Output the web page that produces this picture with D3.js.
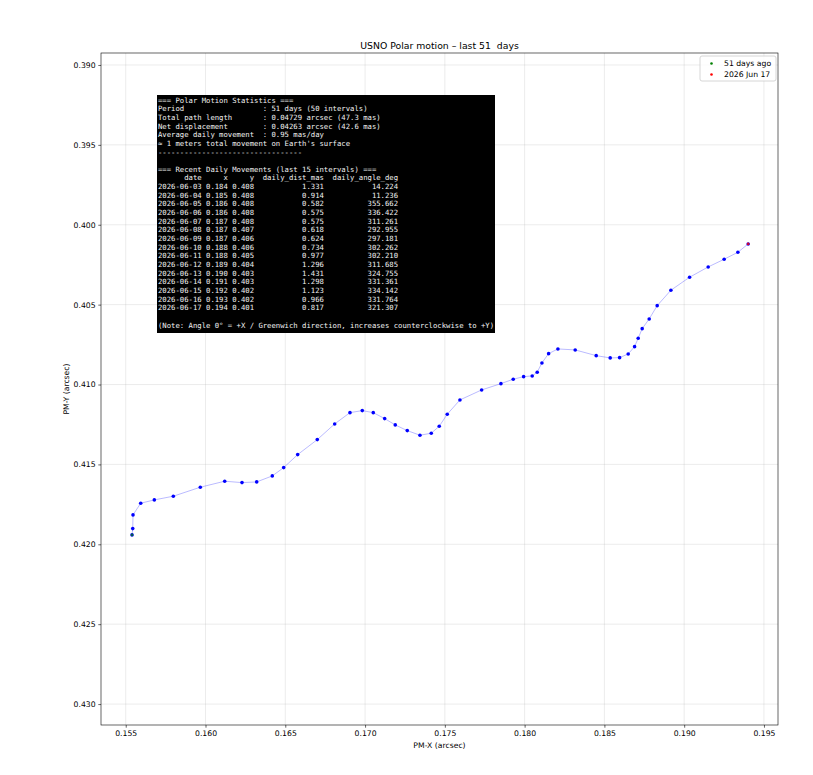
<!DOCTYPE html>
<html><head><meta charset="utf-8">
<script src="https://cdn.jsdelivr.net/npm/d3@7"></script>
<style>
body{margin:0;background:#fff;}
</style></head>
<body><svg id="c" width="813" height="775" font-family="DejaVu Sans, sans-serif"></svg>
<script>
// ---- data ----
const pmX = [0.155395,0.155439,0.155457,0.155940,0.156792,0.157982,0.159674,0.161203,0.162287,0.163208,
 0.164185,0.164900,0.165777,0.167005,0.168095,0.169054,0.169825,0.170514,0.171228,0.171892,
 0.172644,0.173440,0.174148,0.174649,0.175150,0.175946,0.177306,0.178515,0.179286,0.179937,
 0.180476,0.180789,0.181084,0.181504,0.182086,0.183170,0.184486,0.185363,0.185952,0.186491,
 0.186892,0.187118,0.187368,0.187807,0.188308,0.189167,0.190338,0.191504,0.192506,0.193365,0.194010];
const pmY = [0.419412,0.419017,0.418160,0.417428,0.417222,0.416990,0.416427,0.416051,0.416139,0.416095,
 0.415720,0.415200,0.414387,0.413448,0.412466,0.411759,0.411633,0.411759,0.412134,0.412528,
 0.412885,0.413173,0.413048,0.412610,0.411859,0.410964,0.410338,0.409944,0.409668,0.409506,
 0.409462,0.409230,0.408648,0.408066,0.407772,0.407835,0.408192,0.408335,0.408317,0.408085,
 0.407628,0.407103,0.406502,0.405895,0.405063,0.404099,0.403285,0.402641,0.402159,0.401721,0.401202];
const xTicks = [0.155,0.160,0.165,0.170,0.175,0.180,0.185,0.190,0.195];
const yTicks = [0.390,0.395,0.400,0.405,0.410,0.415,0.420,0.425,0.430];
const titleText = "USNO Polar motion \u2013 last 51  days";
const legendLabels = ["51 days ago","2026 Jun 17"];
const statLabels = ["Period","Total path length","Net displacement","Average daily movement"];
const statValues = ["51 days (50 intervals)","0.04729 arcsec (47.3 mas)","0.04263 arcsec (42.6 mas)","0.95 mas/day"];
const tblDates = ["2026-06-03","2026-06-04","2026-06-05","2026-06-06","2026-06-07","2026-06-08","2026-06-09","2026-06-10",
 "2026-06-11","2026-06-12","2026-06-13","2026-06-14","2026-06-15","2026-06-16","2026-06-17"];
const tblX = ["0.184","0.185","0.186","0.186","0.187","0.187","0.187","0.188","0.188","0.189","0.190","0.191","0.192","0.193","0.194"];
const tblY = ["0.408","0.408","0.408","0.408","0.408","0.407","0.406","0.406","0.405","0.404","0.403","0.403","0.402","0.402","0.401"];
const tblDist = ["1.331","0.914","0.582","0.575","0.575","0.618","0.624","0.734","0.977","1.296","1.431","1.298","1.123","0.966","0.817"];
const tblAngle = ["14.224","11.236","355.662","336.422","311.261","292.955","297.181","302.262","302.210","311.685","324.755","331.361","334.142","331.764","321.307"];

// ---- layout ----
const L=101, R=778, T=53, B=725;
const svg = d3.select("#c");
const x = d3.scaleLinear().domain([0.15345,0.19588]).range([L,R]);
const y = d3.scaleLinear().domain([0.38925,0.43131]).range([T,B]);

// grid
svg.append("g").selectAll("line").data(xTicks).join("line")
  .attr("x1",d=>x(d)).attr("x2",d=>x(d)).attr("y1",T).attr("y2",B)
  .attr("stroke","#b0b0b0").attr("stroke-opacity",0.3).attr("stroke-width",0.8);
svg.append("g").selectAll("line").data(yTicks).join("line")
  .attr("y1",d=>y(d)).attr("y2",d=>y(d)).attr("x1",L).attr("x2",R)
  .attr("stroke","#b0b0b0").attr("stroke-opacity",0.3).attr("stroke-width",0.8);

// axes
const fmt = d3.format(".3f");
const xAxis = svg.append("g").attr("transform",`translate(0,${B})`)
  .call(d3.axisBottom(x).tickValues(xTicks).tickFormat(fmt).tickSize(2.7).tickPadding(2.7));
const yAxis = svg.append("g").attr("transform",`translate(${L},0)`)
  .call(d3.axisLeft(y).tickValues(yTicks).tickFormat(fmt).tickSize(2.7).tickPadding(2.7));
[xAxis,yAxis].forEach(a=>{
  a.attr("font-family","DejaVu Sans, sans-serif").attr("font-size","7.7px");
  a.selectAll("text").attr("fill","#000");
  a.selectAll("line").attr("stroke","#000").attr("stroke-width",0.6);
  a.select(".domain").remove();
});
svg.append("rect").attr("x",L).attr("y",T).attr("width",R-L).attr("height",B-T)
  .attr("fill","none").attr("stroke","#000").attr("stroke-width",0.6);

// title & labels
svg.append("text").attr("x",(L+R)/2).attr("y",49).attr("text-anchor","middle")
  .attr("font-size","9.3px").style("white-space","pre").text(titleText);
svg.append("text").attr("x",(L+R)/2).attr("y",748).attr("text-anchor","middle")
  .attr("font-size","7.7px").text("PM-X (arcsec)");
svg.append("text").attr("transform",`translate(69,${(T+B)/2}) rotate(-90)`).attr("text-anchor","middle")
  .attr("font-size","7.7px").text("PM-Y (arcsec)");

// path
const pts = pmX.map((v,i)=>[v,pmY[i]]);
svg.append("path").datum(pts)
  .attr("d",d3.line().x(d=>x(d[0])).y(d=>y(d[1])))
  .attr("fill","none").attr("stroke","blue").attr("stroke-opacity",0.3).attr("stroke-width",0.9);
svg.append("g").selectAll("circle").data(pts).join("circle")
  .attr("cx",d=>x(d[0])).attr("cy",d=>y(d[1])).attr("r",1.8).attr("fill","blue");
svg.append("circle").attr("cx",x(pts[0][0])).attr("cy",y(pts[0][1])).attr("r",1.4)
  .attr("fill","green").attr("fill-opacity",0.7);
svg.append("circle").attr("cx",x(pts[pts.length-1][0])).attr("cy",y(pts[pts.length-1][1])).attr("r",1.4)
  .attr("fill","red").attr("fill-opacity",0.8);

// legend
const lg = svg.append("g");
lg.append("rect").attr("x",700).attr("y",56).attr("width",76).attr("height",25).attr("rx",2)
  .attr("fill","#fff").attr("fill-opacity",0.8).attr("stroke","#ccc").attr("stroke-width",0.8);
const lgColors = ["green","red"];
legendLabels.forEach((t,i)=>{
  lg.append("circle").attr("cx",711.5).attr("cy",63.5+i*11).attr("r",1.3).attr("fill",lgColors[i]);
  lg.append("text").attr("x",724).attr("y",66.3+i*11).attr("font-size","7.7px").text(t);
});

// stats text box
const lines = [];
lines.push("=== Polar Motion Statistics ===");
statLabels.forEach((l,i)=>lines.push(l.padEnd(24," ")+": "+statValues[i]));
lines.push("\u2248 1 meters total movement on Earth's surface");
lines.push("-".repeat(33));
lines.push("");
lines.push("=== Recent Daily Movements (last 15 intervals) ===");
lines.push("      date     x     y  daily_dist_mas  daily_angle_deg");
tblDates.forEach((d,i)=>{
  lines.push(d+" "+tblX[i]+" "+tblY[i]+"  "+tblDist[i].padStart(14," ")+"  "+tblAngle[i].padStart(15," "));
});
lines.push("");
lines.push("(Note: Angle 0\u00b0 = +X / Greenwich direction, increases counterclockwise to +Y)");

const box = svg.append("g");
const bg = box.append("rect").attr("fill","#000");
const tx = box.append("text").attr("font-family","DejaVu Sans Mono, monospace")
  .attr("font-size","7.25px").attr("fill","#f2f2f2").attr("xml:space","preserve").style("white-space","pre");
lines.forEach((l,i)=>{
  tx.append("tspan").attr("x",158).attr("y",102.6+i*8.65).style("white-space","pre").text(l.length?l:" ");
});
bg.attr("x",157).attr("y",95).attr("width",338).attr("height",238);
</script></body></html>
